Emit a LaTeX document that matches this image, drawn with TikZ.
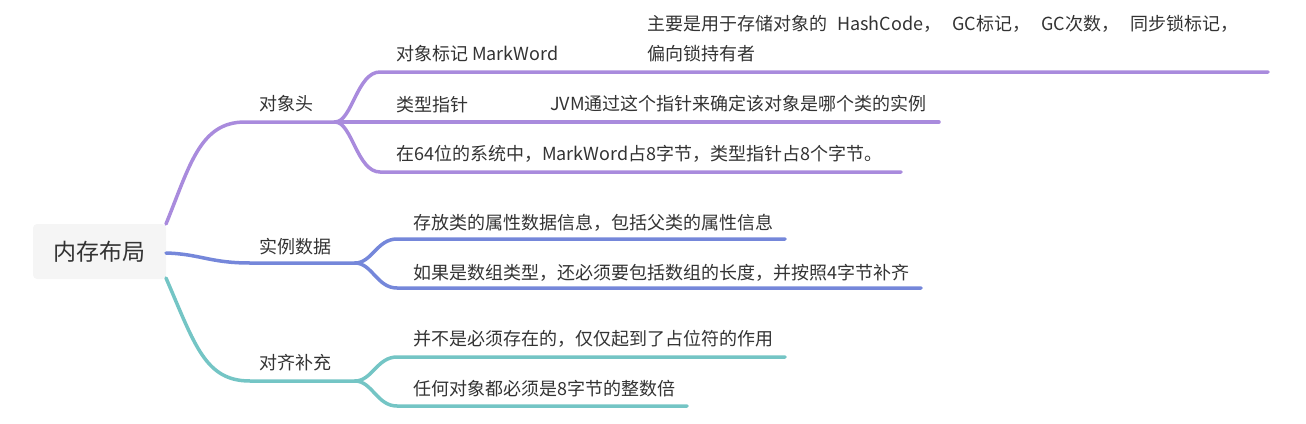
\documentclass[tikz,border=0pt]{standalone}
\usepackage{fontspec}
\setmainfont{Noto Sans CJK SC}
\definecolor{purp}{HTML}{A98BDD}
\definecolor{blu}{HTML}{7587DA}
\definecolor{tealc}{HTML}{74C5C5}
\definecolor{txt}{HTML}{333333}
\definecolor{rootfill}{HTML}{F5F5F5}
\begin{document}
\begin{tikzpicture}[x=1pt,y=-1pt,
  conn/.style={line width=3.5pt, line cap=round},
  lbl/.style={inner sep=0pt, anchor=base west, text=txt, font=\fontsize{18}{30}\selectfont},
  mid/.style={inner sep=0pt, anchor=base, text=txt, font=\fontsize{18}{30}\selectfont}]
\useasboundingbox (0,0) rectangle (1306,423);
% root
\node[fill=rootfill, rounded corners=4pt, minimum width=133pt, minimum height=55pt, inner sep=0pt, text=txt, font=\fontsize{23}{26}\selectfont] (root) at (99.5,251.5) {内存布局};

% ---------- branch 1 (purple)
\coordinate (r1) at (166,224);
\coordinate (h1) at (245,122);
\coordinate (j1) at (335,122);
\node[mid] (b1) at (286,110) {对象头};
\draw[conn,purp] (r1) .. controls (190,165) and (200,122) .. (h1) -- (j1);
\coordinate (a1) at (380,72);  \coordinate (a1e) at (1268,72);
\coordinate (a2e) at (939,122);
\coordinate (a3) at (380,172); \coordinate (a3e) at (901,172);
\draw[conn,purp] (j1) .. controls (352,122) and (357,72) .. (a1) -- (a1e);
\draw[conn,purp] (j1) -- (a2e);
\draw[conn,purp] (j1) .. controls (352,122) and (357,172) .. (a3) -- (a3e);
\node[lbl] (t11) at (396,60) {对象标记 MarkWord};
\node[lbl, align=left, anchor=north west] (t11d) at (647,15) {主要是用于存储对象的\hspace{6pt} HashCode，\hspace{7pt} GC标记，\hspace{7pt} GC次数，\hspace{7pt} 同步锁标记，\\偏向锁持有者};
\node[lbl] (t12) at (396,111) {类型指针};
\node[lbl] (t12d) at (550,110) {JVM通过这个指针来确定该对象是哪个类的实例};
\node[lbl] (t13) at (396,160) {在64位的系统中，MarkWord占8字节，类型指针占8个字节。};

% ---------- branch 2 (blue)
\coordinate (r2) at (166,253);
\coordinate (h2) at (250,263);
\coordinate (j2) at (355,263);
\node[mid] (b2) at (295,253) {实例数据};
\draw[conn,blu] (r2) .. controls (200,254) and (210,263) .. (h2) -- (j2);
\coordinate (c1) at (397,239); \coordinate (c1e) at (785,239);
\coordinate (c2) at (397,288); \coordinate (c2e) at (921,288);
\draw[conn,blu] (j2) .. controls (372,263) and (377,239) .. (c1) -- (c1e);
\draw[conn,blu] (j2) .. controls (372,263) and (377,288) .. (c2) -- (c2e);
\node[lbl] (t21) at (413,229) {存放类的属性数据信息，包括父类的属性信息};
\node[lbl] (t22) at (413,279) {如果是数组类型，还必须要包括数组的长度，并按照4字节补齐};

% ---------- branch 3 (teal)
\coordinate (r3) at (166,278);
\coordinate (h3) at (250,381);
\coordinate (j3) at (355,381);
\node[mid] (b3) at (295,369) {对齐补充};
\draw[conn,tealc] (r3) .. controls (195,345) and (205,381) .. (h3) -- (j3);
\coordinate (d1) at (397,357); \coordinate (d1e) at (785,357);
\coordinate (d2) at (397,406); \coordinate (d2e) at (687,406);
\draw[conn,tealc] (j3) .. controls (372,381) and (377,357) .. (d1) -- (d1e);
\draw[conn,tealc] (j3) .. controls (372,381) and (377,406) .. (d2) -- (d2e);
\node[lbl] (t31) at (413,345) {并不是必须存在的，仅仅起到了占位符的作用};
\node[lbl] (t32) at (413,395) {任何对象都必须是8字节的整数倍};
\end{tikzpicture}
\end{document}
